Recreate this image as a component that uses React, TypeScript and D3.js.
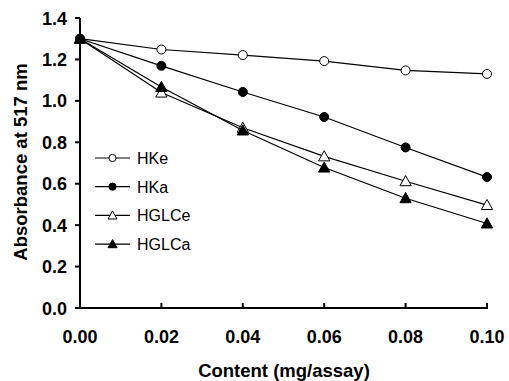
import * as d3 from "d3";

const contents = [0, 0.02, 0.04, 0.06, 0.08, 0.1];
const hke = [1.30, 1.248, 1.221, 1.192, 1.147, 1.13];
const hka = [1.30, 1.169, 1.043, 0.922, 0.775, 0.632];
const hglce = [1.30, 1.04, 0.87, 0.732, 0.612, 0.497];
const hglca = [1.30, 1.067, 0.857, 0.678, 0.53, 0.408];
const xTicks = [0, 0.02, 0.04, 0.06, 0.08, 0.1];
const yTicks = [0, 0.2, 0.4, 0.6, 0.8, 1.0, 1.2, 1.4];

type Marker = "circle" | "triangle";
const series: { name: string; values: number[]; marker: Marker; filled: boolean }[] = [
  { name: "HKe", values: hke, marker: "circle", filled: false },
  { name: "HKa", values: hka, marker: "circle", filled: true },
  { name: "HGLCe", values: hglce, marker: "triangle", filled: false },
  { name: "HGLCa", values: hglca, marker: "triangle", filled: true },
];

const W = 509, H = 381;
const FONT = "Liberation Sans, Arial, sans-serif";

function MarkerShape({ x, y, marker, filled, size }: { x: number; y: number; marker: Marker; filled: boolean; size: number }) {
  const fill = filled ? "#000" : "#fff";
  if (marker === "circle") {
    return <circle cx={x} cy={y} r={size} fill={fill} stroke="#000" strokeWidth={1} />;
  }
  const s = size * 1.25;
  const p = `M${x},${y - s}L${x + s},${y + s * 0.8}L${x - s},${y + s * 0.8}Z`;
  return <path d={p} fill={fill} stroke="#000" strokeWidth={1} />;
}

export default function App() {
  const x = d3.scaleLinear().domain([0, 0.1]).range([80, 487]);
  const y = d3.scaleLinear().domain([0, 1.4]).range([308, 18]);
  const line = d3.line<[number, number]>().x(d => x(d[0])).y(d => y(d[1]));

  return (
    <svg width={W} height={H} style={{ position: "absolute", left: 0, top: 0, background: "#fff" }} fontFamily={FONT}>
      {/* axes */}
      <line x1={x(0)} x2={x(0)} y1={y(0) + 1} y2={y(1.4)} stroke="#000" strokeWidth={2} />
      <line x1={x(0) - 1} x2={x(0.1) + 1} y1={y(0)} y2={y(0)} stroke="#000" strokeWidth={2} />
      {yTicks.map(t => (
        <g key={"y" + t}>
          <line x1={x(0) - 5} x2={x(0)} y1={y(t)} y2={y(t)} stroke="#000" strokeWidth={2} />
          <text x={67} y={y(t) + 6.5} textAnchor="end" fontSize={18} fontWeight="bold">{d3.format(".1f")(t)}</text>
        </g>
      ))}
      {xTicks.map(t => (
        <g key={"x" + t}>
          <line x1={x(t)} x2={x(t)} y1={y(0)} y2={y(0) - 5} stroke="#000" strokeWidth={2} />
          <text x={x(t)} y={343} textAnchor="middle" fontSize={18} fontWeight="bold">{d3.format(".2f")(t)}</text>
        </g>
      ))}
      <text x={284} y={377} textAnchor="middle" fontSize={18.5} fontWeight="bold">Content (mg/assay)</text>
      <text transform={`translate(27,162) rotate(-90)`} textAnchor="middle" fontSize={18.5} fontWeight="bold">Absorbance at 517 nm</text>

      {/* series */}
      {series.map(s => {
        const pts = contents.map((c, i) => [c, s.values[i]] as [number, number]);
        return (
          <g key={s.name}>
            <path d={line(pts) ?? ""} fill="none" stroke="#000" strokeWidth={1.2} />
            {pts.map((p, i) => (
              <MarkerShape key={i} x={x(p[0])} y={y(p[1])} marker={s.marker} filled={s.filled} size={4.5} />
            ))}
          </g>
        );
      })}

      {/* legend */}
      {series.map((s, i) => {
        const ly = 158 + i * 28.7;
        return (
          <g key={"lg" + s.name}>
            <line x1={95} x2={130} y1={ly} y2={ly} stroke="#000" strokeWidth={1.2} />
            <MarkerShape x={112.5} y={ly} marker={s.marker} filled={s.filled} size={3.6} />
            <text x={137} y={ly + 6} fontSize={16}>{s.name}</text>
          </g>
        );
      })}
    </svg>
  );
}
